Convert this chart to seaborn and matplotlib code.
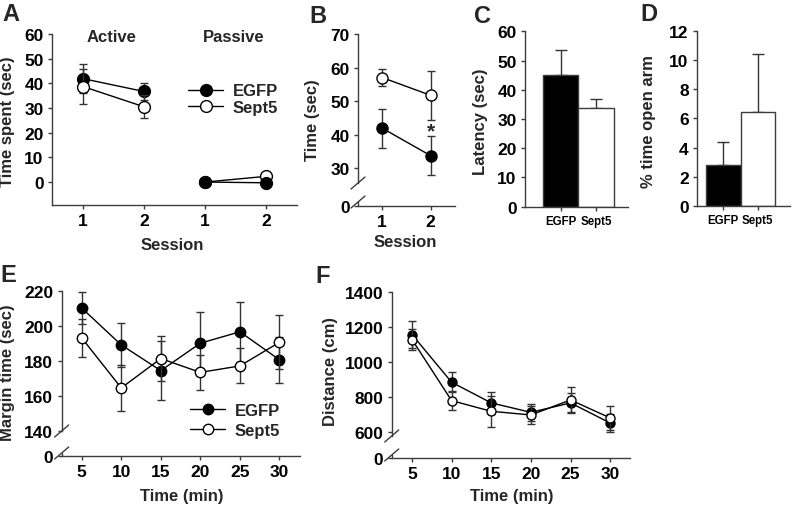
import matplotlib
matplotlib.use("Agg")
import matplotlib.pyplot as plt
import seaborn as sns

sns.set_style("ticks")
plt.rcParams['font.family'] = ['Liberation Sans', 'DejaVu Sans']
plt.rcParams['font.weight'] = 'bold'
plt.rcParams['axes.labelweight'] = 'bold'

W, H = 793, 510
AXIS_COLOR = '#3c3c3c'
ERR_COLOR = '#333333'
FS = 12

# ---------------- data ----------------
groups = ["EGFP", "Sept5"]

# A: time spent, active avoidance (sessions 1, 2) then passive (sessions 1, 2)
a_active_x = [1, 2]
a_passive_x = [3, 4]
a_tick_labels = ["1", "2", "1", "2"]
a_active_egfp = [41.9, 36.7]
a_active_egfp_err = [5.8, 3.6]
a_active_sept5 = [38.7, 30.5]
a_active_sept5_err = [7.2, 4.7]
a_passive_egfp = [0.0, -0.3]
a_passive_egfp_err = [0.0, 0.0]
a_passive_sept5 = [0.0, 2.3]
a_passive_sept5_err = [0.0, 0.0]

# B: time (sec) per session
b_sessions = [1, 2]
b_egfp = [41.9, 33.7]
b_egfp_err = [5.8, 5.8]
b_sept5 = [57.0, 51.7]
b_sept5_err = [2.6, 7.3]

# C: latency (sec)
c_latency = [45.2, 33.6]
c_latency_err = [8.4, 3.1]

# D: % time open arm
d_open_arm = [2.83, 6.45]
d_open_arm_err = [1.55, 3.95]

# E: margin time (sec) over time
time_min = [5, 10, 15, 20, 25, 30]
e_egfp = [210.1, 189.0, 174.3, 190.0, 196.5, 180.5]
e_egfp_err = [9.0, 12.5, 17.0, 17.7, 17.0, 13.0]
e_sept5 = [193.0, 164.4, 181.2, 173.3, 177.0, 190.5]
e_sept5_err = [11.0, 13.4, 13.0, 10.0, 10.0, 15.5]

# F: distance (cm) over time
f_egfp = [1157, 884, 766, 712, 766, 651]
f_egfp_err = [80, 57, 61, 48, 54, 49]
f_sept5 = [1128, 779, 718, 697, 783, 680]
f_sept5_err = [62, 53, 88, 51, 72, 70]

fig = plt.figure(figsize=(W / 100, H / 100), dpi=100)


def px_axes(left, top, right, bottom):
    ax = fig.add_axes([left / W, 1 - bottom / H, (right - left) / W, (bottom - top) / H])
    ax.px_size = (right - left, bottom - top)
    return ax


def style_axes(ax, labelsize=12.5):
    sns.despine(ax=ax)
    for s in ('left', 'bottom'):
        ax.spines[s].set_color(AXIS_COLOR)
        ax.spines[s].set_linewidth(1)
    ax.tick_params(direction='out', length=3, width=1, color=AXIS_COLOR,
                   labelsize=labelsize, labelcolor='black')
    ax.tick_params(axis='y', pad=3)
    ax.tick_params(axis='x', pad=2.5)


def axis_break(ax, hi_px=23, lo_px=4):
    wpx, hpx = ax.px_size
    y0, y1 = ax.get_ylim()
    ax.spines['left'].set_bounds(y0 + hi_px / hpx * (y1 - y0), y1)
    kw = dict(transform=ax.transAxes, clip_on=False, color=AXIS_COLOR, lw=1)
    ax.plot([0, 0], [0, lo_px / hpx], **kw)
    dx, dy = 7 / wpx, 6 / hpx
    for yb in (hi_px / hpx, lo_px / hpx):
        ax.plot([-dx, dx], [yb - dy, yb + dy], **kw)


def draw_series(ax, x, y, err, filled, ms, label=None, z=3):
    ax.errorbar(x, y, yerr=err, fmt='none', ecolor=ERR_COLOR, elinewidth=1,
                capsize=3, capthick=1, zorder=z - 1)
    sns.lineplot(x=x, y=y, ax=ax, color='black', linewidth=1, marker='o',
                 markersize=ms, markerfacecolor='black' if filled else 'white',
                 markeredgecolor='black', markeredgewidth=1, label=label,
                 errorbar=None, legend=False, zorder=z)


def add_legend(ax, x_px, yc_px, spacing):
    ax.legend(loc='center left', bbox_to_anchor=(x_px / W, 1 - yc_px / H),
              bbox_transform=fig.transFigure, frameon=False, fontsize=FS,
              handlelength=2.1, handletextpad=0.6, borderpad=0, borderaxespad=0,
              labelspacing=spacing, numpoints=1)


# ---------------- A ----------------
ax = px_axes(52, 35, 297, 206)
draw_series(ax, a_active_x, a_active_egfp, a_active_egfp_err, True, 8.5, "EGFP", z=3)
draw_series(ax, a_active_x, a_active_sept5, a_active_sept5_err, False, 8.5, "Sept5", z=4)
draw_series(ax, a_passive_x, a_passive_sept5, a_passive_sept5_err, False, 8.5, z=3)
draw_series(ax, a_passive_x, a_passive_egfp, a_passive_egfp_err, True, 8.5, z=4)
ax.set_xlim(0.49, 4.51)
ax.set_ylim(-9.3, 60)
ax.set_yticks([0, 10, 20, 30, 40, 50, 60])
ax.set_xticks(a_active_x + a_passive_x)
ax.set_xticklabels(a_tick_labels)
style_axes(ax)
ax.spines['left'].set_bounds(-9.3, 60)
add_legend(ax, 188, 100, 0.06)
fig.text(112 / W, 1 - 38 / H, "Active", ha='center', va='center', fontsize=FS)
fig.text(234 / W, 1 - 38 / H, "Passive", ha='center', va='center', fontsize=FS)
fig.text(8 / W, 1 - 122 / H, "Time spent (sec)", rotation=90, ha='center', va='center', fontsize=FS)
fig.text(172 / W, 1 - 245 / H, "Session", ha='center', va='center', fontsize=FS)

# ---------------- B ----------------
ax = px_axes(358, 35, 455, 207)
draw_series(ax, b_sessions, b_egfp, b_egfp_err, True, 8, z=3)
draw_series(ax, b_sessions, b_sept5, b_sept5_err, False, 8, z=4)
ax.set_xlim(0.5, 2.5)
ax.set_ylim(18.7, 70)
ax.set_yticks([18.7, 30, 40, 50, 60, 70])
ax.set_yticklabels(["0", "30", "40", "50", "60", "70"])
ax.set_xticks(b_sessions)
style_axes(ax)
axis_break(ax)
ax.text(2, 41.0, "*", ha='center', va='center', fontsize=15)
fig.text(313 / W, 1 - 120 / H, "Time (sec)", rotation=90, ha='center', va='center', fontsize=FS)
fig.text(405 / W, 1 - 243 / H, "Session", ha='center', va='center', fontsize=FS)

# ---------------- C ----------------
ax = px_axes(525, 32.3, 628, 207.5)
sns.barplot(x=groups, y=c_latency, hue=groups, palette=['black', 'white'],
            edgecolor=AXIS_COLOR, linewidth=1, width=1.0, legend=False, ax=ax, zorder=2)
ax.errorbar([0, 1], c_latency, yerr=[[0, 0], c_latency_err], fmt='none',
            ecolor=ERR_COLOR, elinewidth=1, capsize=4, capthick=1, zorder=1)
ax.set_xlim(-1.0, 1.9)
ax.set_ylim(0, 60)
ax.set_yticks([0, 10, 20, 30, 40, 50, 60])
style_axes(ax)
ax.tick_params(axis='x', labelsize=8.3, pad=3)
fig.text(481 / W, 1 - 122 / H, "Latency (sec)", rotation=90, ha='center', va='center', fontsize=FS)

# ---------------- D ----------------
ax = px_axes(697, 31.7, 790, 207)
sns.barplot(x=groups, y=d_open_arm, hue=groups, palette=['black', 'white'],
            edgecolor=AXIS_COLOR, linewidth=1, width=1.0, legend=False, ax=ax, zorder=2)
ax.errorbar([0, 1], d_open_arm, yerr=[[0, 0], d_open_arm_err], fmt='none',
            ecolor=ERR_COLOR, elinewidth=1, capsize=4, capthick=1, zorder=1)
ax.set_xlim(-0.76, 1.93)
ax.set_ylim(0, 12)
ax.set_yticks([0, 2, 4, 6, 8, 10, 12])
style_axes(ax)
ax.tick_params(axis='x', labelsize=8.3, pad=3)
fig.text(648 / W, 1 - 122 / H, "% time open arm", rotation=90, ha='center', va='center', fontsize=FS)

# ---------------- E ----------------
ax = px_axes(61.7, 291.7, 300, 457)
draw_series(ax, time_min, e_egfp, e_egfp_err, True, 7.5, "EGFP", z=3)
draw_series(ax, time_min, e_sept5, e_sept5_err, False, 7.5, "Sept5", z=4)
ax.set_xlim(2.47, 32.6)
ax.set_ylim(125.5, 220)
ax.set_yticks([125.5, 140, 160, 180, 200, 220])
ax.set_yticklabels(["0", "140", "160", "180", "200", "220"])
ax.set_xticks(time_min)
style_axes(ax)
axis_break(ax, hi_px=25, lo_px=3)
add_legend(ax, 190, 421.5, 0.28)
fig.text(8 / W, 1 - 373 / H, "Margin time (sec)", rotation=90, ha='center', va='center', fontsize=FS)
fig.text(182 / W, 1 - 497 / H, "Time (min)", ha='center', va='center', fontsize=FS)

# ---------------- F ----------------
ax = px_axes(391.7, 293, 630, 459)
draw_series(ax, time_min, f_egfp, f_egfp_err, True, 6.5, z=3)
draw_series(ax, time_min, f_sept5, f_sept5_err, False, 6.5, z=4)
ax.set_xlim(2.44, 32.5)
ax.set_ylim(451, 1400)
ax.set_yticks([451, 600, 800, 1000, 1200, 1400])
ax.set_yticklabels(["0", "600", "800", "1000", "1200", "1400"])
ax.set_xticks(time_min)
style_axes(ax)
axis_break(ax, hi_px=22, lo_px=3)
fig.text(331 / W, 1 - 372 / H, "Distance (cm)", rotation=90, ha='center', va='center', fontsize=FS)
fig.text(512 / W, 1 - 497 / H, "Time (min)", ha='center', va='center', fontsize=FS)

# panel letters
for letter, x, y in [("A", 2, 3), ("B", 309, 5), ("C", 474, 5), ("D", 640, 3),
                     ("E", 0, 264), ("F", 315, 265)]:
    fig.text(x / W, 1 - y / H, letter, ha='left', va='top', fontsize=17)

fig.savefig("out.png", dpi=100)
